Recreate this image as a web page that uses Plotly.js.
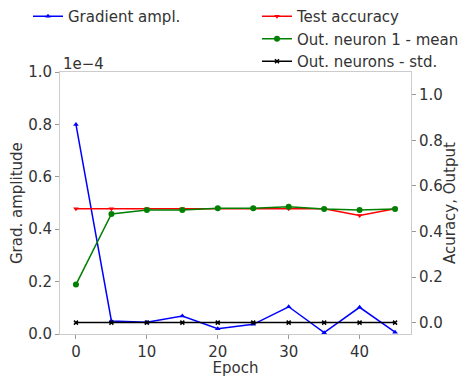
<!DOCTYPE html>
<html>
<head>
<meta charset="utf-8">
<script src="https://cdn.plot.ly/plotly-3.0.1.min.js"></script>
<style>html,body{margin:0;padding:0;background:#fff;}#chart{width:467px;height:377px;}</style>
</head>
<body>
<div id="chart"></div>
<script>
const epochs = [0, 5, 10, 15, 20, 25, 30, 35, 40, 45];
const gradAmpl = [0.80e-4, 0.050e-4, 0.045e-4, 0.069e-4, 0.020e-4, 0.037e-4, 0.104e-4, 0.005e-4, 0.102e-4, 0.007e-4];
const testAccuracy = [0.50, 0.50, 0.50, 0.50, 0.50, 0.50, 0.50, 0.50, 0.47, 0.50];
const outNeuronMean = [0.167, 0.477, 0.494, 0.494, 0.502, 0.502, 0.509, 0.499, 0.494, 0.499];
const outNeuronStd = [0.0, 0.0, 0.0, 0.0, 0.0, 0.0, 0.0, 0.0, 0.0, 0.0];
const leftTicks = [0, 0.2e-4, 0.4e-4, 0.6e-4, 0.8e-4, 1.0e-4];
const leftTickLabels = ['0.0', '0.2', '0.4', '0.6', '0.8', '1.0'];
const rightTicks = [0, 0.2, 0.4, 0.6, 0.8, 1.0];
const rightTickLabels = ['0.0', '0.2', '0.4', '0.6', '0.8', '1.0'];
const xTicks = [0, 10, 20, 30, 40];
const leftTitle = 'Grad. amplitude';
const rightTitle = 'Acuracy, Output';

const FONT = 'DejaVu Sans, sans-serif';
const TXT = '#333333';
const FS = 15;

const traces = [
  {x: epochs, y: gradAmpl, name: 'Gradient ampl.', mode: 'lines+markers', yaxis: 'y', legend: 'legend',
   line: {color: 'blue', width: 1.5}, marker: {symbol: 'triangle-up', size: 5, color: 'blue'}},
  {x: epochs, y: testAccuracy, name: 'Test accuracy', mode: 'lines+markers', yaxis: 'y2', legend: 'legend2',
   line: {color: 'red', width: 1.5}, marker: {symbol: 'triangle-down', size: 5, color: 'red'}},
  {x: epochs, y: outNeuronMean, name: 'Out. neuron 1 - mean', mode: 'lines+markers', yaxis: 'y2', legend: 'legend2',
   line: {color: 'green', width: 1.5}, marker: {symbol: 'circle', size: 6, color: 'green'}},
  {x: epochs, y: outNeuronStd, name: 'Out. neurons - std.', mode: 'lines+markers', yaxis: 'y2', legend: 'legend2',
   line: {color: 'black', width: 1.5}, marker: {symbol: 'x-thin', size: 4, color: 'black', line: {color: 'black', width: 1.5}}}
];

const axisCommon = {
  showgrid: false, zeroline: false, showline: true, linecolor: '#cccccc', linewidth: 1,
  ticks: 'outside', ticklen: 4, tickcolor: '#999999', tickwidth: 1,
  tickfont: {family: FONT, size: FS, color: TXT}
};

const layout = {
  width: 467, height: 377,
  margin: {l: 60, r: 56, t: 72, b: 43, autoexpand: false},
  paper_bgcolor: '#ffffff', plot_bgcolor: '#ffffff',
  font: {family: FONT, size: FS, color: TXT},
  xaxis: Object.assign({}, axisCommon, {range: [-2.25, 47.25], tickvals: xTicks, mirror: true, tickangle: 0,
    title: {text: 'Epoch', font: {family: FONT, size: FS, color: TXT}, standoff: 2}}),
  yaxis: Object.assign({}, axisCommon, {range: [0, 1.0e-4], tickvals: leftTicks, ticktext: leftTickLabels, mirror: true}),
  yaxis2: Object.assign({}, axisCommon, {range: [-0.05, 1.1], tickvals: rightTicks, ticktext: rightTickLabels,
    overlaying: 'y', side: 'right', showline: false}),
  showlegend: true,
  legend: {xref: 'container', yref: 'container', x: 28/467, y: 1, xanchor: 'left', yanchor: 'top',
    bgcolor: 'rgba(0,0,0,0)', font: {family: FONT, size: FS, color: TXT}},
  legend2: {xref: 'container', yref: 'container', x: 257/467, y: 1, xanchor: 'left', yanchor: 'top',
    bgcolor: 'rgba(0,0,0,0)', font: {family: FONT, size: FS, color: TXT}},
  annotations: [
    {text: '1e\u22124', xref: 'paper', yref: 'paper', x: 0, y: 1, xanchor: 'left', yanchor: 'bottom',
     showarrow: false, font: {family: FONT, size: FS, color: TXT}, xshift: 1, yshift: -3},
    {text: leftTitle, xref: 'paper', yref: 'paper', x: (17 - 60) / 351, y: 0.5, xanchor: 'center', yanchor: 'middle',
     textangle: -90, showarrow: false, font: {family: FONT, size: FS, color: TXT}},
    {text: rightTitle, xref: 'paper', yref: 'paper', x: (450 - 60) / 351, y: 0.5, xanchor: 'center', yanchor: 'middle',
     textangle: -90, showarrow: false, font: {family: FONT, size: FS, color: TXT}}
  ]
};

Plotly.newPlot('chart', traces, layout, {displayModeBar: false, staticPlot: true});
</script>
</body>
</html>
